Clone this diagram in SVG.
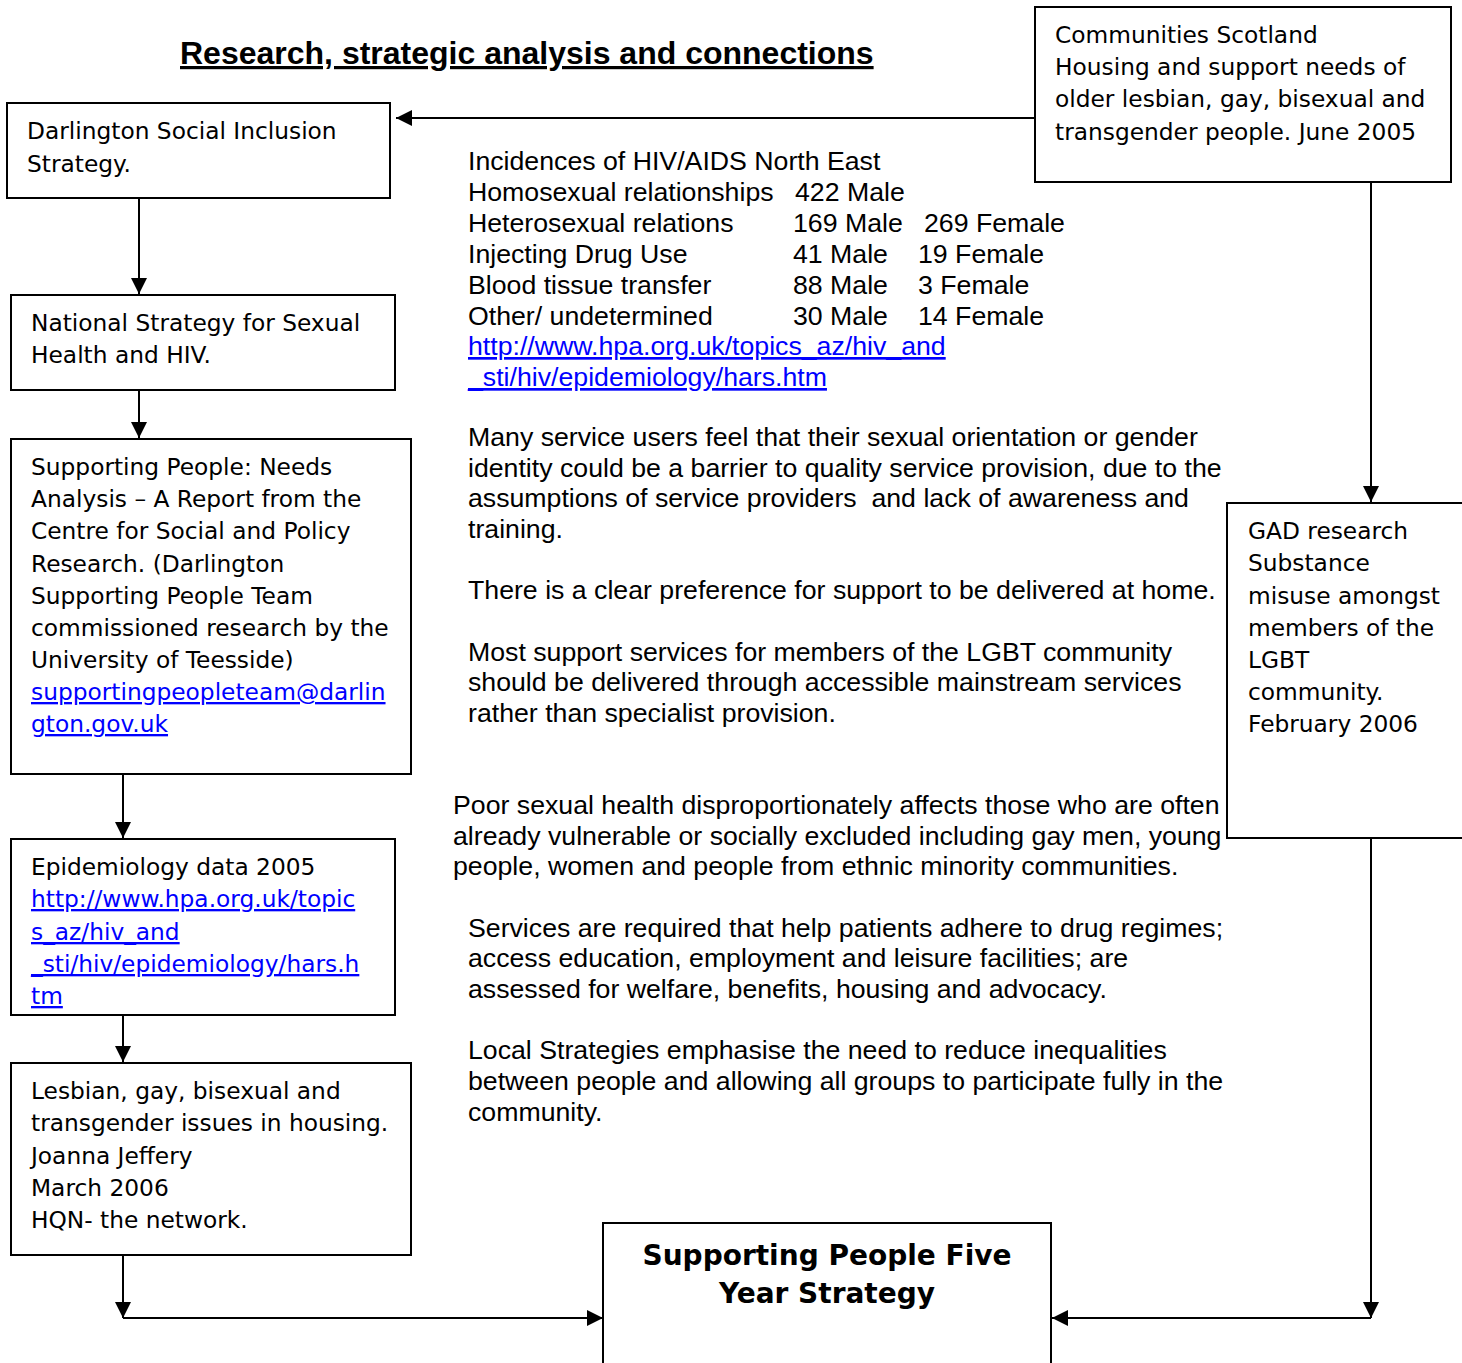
<svg xmlns="http://www.w3.org/2000/svg" width="1462" height="1363" viewBox="0 0 1462 1363">
  <style>
    .box { fill: #fff; stroke: #000; stroke-width: 2; }
    .bt { font-family: "DejaVu Sans", Verdana, sans-serif; font-size: 23.3px; fill: #000; }
    .mt { font-family: "Liberation Sans", Arial, sans-serif; font-size: 26.7px; fill: #000; }
    .lnk { fill: #0000ff; text-decoration: underline; }
    .title { font-family: "Liberation Sans", Arial, sans-serif; font-size: 32px; font-weight: bold; text-decoration: underline; fill: #000; }
    .big { font-family: "DejaVu Sans", Verdana, sans-serif; font-size: 28px; font-weight: bold; fill: #000; text-anchor: middle; }
    .conn { fill: none; stroke: #000; stroke-width: 2; }
  </style>
  <defs>
    <marker id="arrow" markerUnits="userSpaceOnUse" markerWidth="16" markerHeight="16" viewBox="0 0 15 15" refX="15" refY="7.5" orient="auto">
      <path d="M0,0 L15,7.5 L0,15 z" fill="#000"/>
    </marker>
  </defs>

  <rect width="1462" height="1363" fill="#fff"/>

  <text class="title" x="180" y="64">Research, strategic analysis and connections</text>

  <!-- connectors -->
  <g id="connectors">
    <path class="conn" d="M1035,118 H396" marker-end="url(#arrow)"/>
    <path class="conn" d="M139,199 V294" marker-end="url(#arrow)"/>
    <path class="conn" d="M139,390 V438" marker-end="url(#arrow)"/>
    <path class="conn" d="M123,774 V838" marker-end="url(#arrow)"/>
    <path class="conn" d="M123,1015 V1062" marker-end="url(#arrow)"/>
    <path class="conn" d="M123,1255 V1318" marker-end="url(#arrow)"/>
    <path class="conn" d="M123,1318 H603" marker-end="url(#arrow)"/>
    <path class="conn" d="M1371,182 V502" marker-end="url(#arrow)"/>
    <path class="conn" d="M1371,838 V1318" marker-end="url(#arrow)"/>
    <path class="conn" d="M1371,1318 H1052" marker-end="url(#arrow)"/>
  </g>

  <g id="darlington-social-inclusion">
    <rect class="box" x="7" y="103" width="383" height="95"/>
    <text class="bt" x="27" y="139">Darlington Social Inclusion</text>
    <text class="bt" x="27" y="172">Strategy.</text>
  </g>

  <g id="national-strategy">
    <rect class="box" x="11" y="295" width="384" height="95"/>
    <text class="bt" x="31" y="331">National Strategy for Sexual</text>
    <text class="bt" x="31" y="363">Health and HIV.</text>
  </g>

  <g id="supporting-people-needs">
    <rect class="box" x="11" y="439" width="400" height="335"/>
    <text class="bt" x="31" y="475">Supporting People: Needs</text>
    <text class="bt" x="31" y="507">Analysis – A Report from the</text>
    <text class="bt" x="31" y="539">Centre for Social and Policy</text>
    <text class="bt" x="31" y="572">Research. (Darlington</text>
    <text class="bt" x="31" y="604">Supporting People Team</text>
    <text class="bt" x="31" y="636">commissioned research by the</text>
    <text class="bt" x="31" y="668">University of Teesside)</text>
    <text class="bt lnk" x="31" y="700">supportingpeopleteam@darlin</text>
    <text class="bt lnk" x="31" y="732">gton.gov.uk</text>
  </g>

  <g id="epidemiology">
    <rect class="box" x="11" y="839" width="384" height="176"/>
    <text class="bt" x="31" y="875">Epidemiology data 2005</text>
    <text class="bt lnk" x="31" y="907">http://www.hpa.org.uk/topic</text>
    <text class="bt lnk" x="31" y="940">s_az/hiv_and</text>
    <text class="bt lnk" x="31" y="972">_sti/hiv/epidemiology/hars.h</text>
    <text class="bt lnk" x="31" y="1004">tm</text>
  </g>

  <g id="lgbt-housing">
    <rect class="box" x="11" y="1063" width="400" height="192"/>
    <text class="bt" x="31" y="1099">Lesbian, gay, bisexual and</text>
    <text class="bt" x="31" y="1131">transgender issues in housing.</text>
    <text class="bt" x="31" y="1164">Joanna Jeffery</text>
    <text class="bt" x="31" y="1196">March 2006</text>
    <text class="bt" x="31" y="1228">HQN- the network.</text>
  </g>

  <g id="communities-scotland">
    <rect class="box" x="1035" y="7" width="416" height="175"/>
    <text class="bt" x="1055" y="43">Communities Scotland</text>
    <text class="bt" x="1055" y="75">Housing and support needs of</text>
    <text class="bt" x="1055" y="107">older lesbian, gay, bisexual and</text>
    <text class="bt" x="1055" y="140">transgender people. June 2005</text>
  </g>

  <g id="gad-research">
    <rect class="box" x="1227" y="503" width="250" height="335"/>
    <text class="bt" x="1248" y="539">GAD research</text>
    <text class="bt" x="1248" y="571">Substance</text>
    <text class="bt" x="1248" y="604">misuse amongst</text>
    <text class="bt" x="1248" y="636">members of the</text>
    <text class="bt" x="1248" y="668">LGBT</text>
    <text class="bt" x="1248" y="700">community.</text>
    <text class="bt" x="1248" y="732">February 2006</text>
  </g>

  <g id="five-year-strategy">
    <rect class="box" x="603" y="1223" width="448" height="160"/>
    <text class="big" x="827" y="1265">Supporting People Five</text>
    <text class="big" x="827" y="1303">Year Strategy</text>
  </g>

  <!-- central notes -->
  <g id="notes">
    <text class="mt" x="468" y="170">Incidences of HIV/AIDS North East</text>
    <text class="mt" x="468" y="201">Homosexual relationships</text>
    <text class="mt" x="795" y="201">422 Male</text>
    <text class="mt" x="468" y="232">Heterosexual relations</text>
    <text class="mt" x="793" y="232">169 Male</text>
    <text class="mt" x="924" y="232">269 Female</text>
    <text class="mt" x="468" y="263">Injecting Drug Use</text>
    <text class="mt" x="793" y="263">41 Male</text>
    <text class="mt" x="918" y="263">19 Female</text>
    <text class="mt" x="468" y="294">Blood tissue transfer</text>
    <text class="mt" x="793" y="294">88 Male</text>
    <text class="mt" x="918" y="294">3 Female</text>
    <text class="mt" x="468" y="325">Other/ undetermined</text>
    <text class="mt" x="793" y="325">30 Male</text>
    <text class="mt" x="918" y="325">14 Female</text>
    <text class="mt lnk" x="468" y="355">http://www.hpa.org.uk/topics_az/hiv_and</text>
    <text class="mt lnk" x="468" y="386">_sti/hiv/epidemiology/hars.htm</text>

    <text class="mt" x="468" y="446">Many service users feel that their sexual orientation or gender</text>
    <text class="mt" x="468" y="477">identity could be a barrier to quality service provision, due to the</text>
    <text class="mt" x="468" y="507" xml:space="preserve">assumptions of service providers  and lack of awareness and</text>
    <text class="mt" x="468" y="538">training.</text>

    <text class="mt" x="468" y="599">There is a clear preference for support to be delivered at home.</text>

    <text class="mt" x="468" y="661">Most support services for members of the LGBT community</text>
    <text class="mt" x="468" y="691">should be delivered through accessible mainstream services</text>
    <text class="mt" x="468" y="722">rather than specialist provision.</text>

    <text class="mt" x="453" y="814">Poor sexual health disproportionately affects those who are often</text>
    <text class="mt" x="453" y="845">already vulnerable or socially excluded including gay men, young</text>
    <text class="mt" x="453" y="875">people, women and people from ethnic minority communities.</text>

    <text class="mt" x="468" y="937">Services are required that help patients adhere to drug regimes;</text>
    <text class="mt" x="468" y="967">access education, employment and leisure facilities; are</text>
    <text class="mt" x="468" y="998">assessed for welfare, benefits, housing and advocacy.</text>

    <text class="mt" x="468" y="1059">Local Strategies emphasise the need to reduce inequalities</text>
    <text class="mt" x="468" y="1090">between people and allowing all groups to participate fully in the</text>
    <text class="mt" x="468" y="1121">community.</text>
  </g>
</svg>
